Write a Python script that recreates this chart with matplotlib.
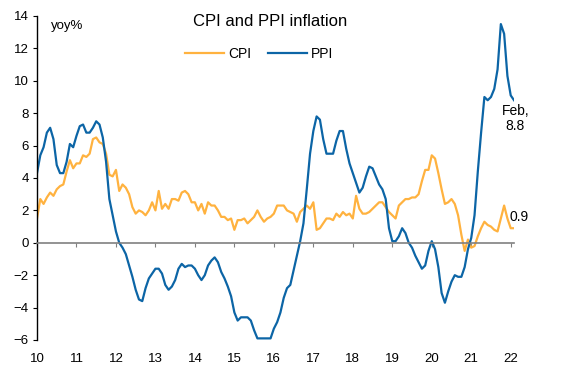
import numpy as np
import matplotlib
matplotlib.use('Agg')
from matplotlib import pyplot as plt

plt.rcParams['font.family'] = ['Liberation Sans', 'DejaVu Sans']

# Monthly yoy %, Jan 2010 - Feb 2022
cpi = [1.5, 2.7, 2.4, 2.8, 3.1, 2.9, 3.3, 3.5, 3.6, 4.4, 5.1, 4.6,
       4.9, 4.9, 5.4, 5.3, 5.5, 6.4, 6.5, 6.2, 6.1, 5.5, 4.2, 4.1,
       4.5, 3.2, 3.6, 3.4, 3.0, 2.2, 1.8, 2.0, 1.9, 1.7, 2.0, 2.5,
       2.0, 3.2, 2.1, 2.4, 2.1, 2.7, 2.7, 2.6, 3.1, 3.2, 3.0, 2.5,
       2.5, 2.0, 2.4, 1.8, 2.5, 2.3, 2.3, 2.0, 1.6, 1.6, 1.4, 1.5,
       0.8, 1.4, 1.4, 1.5, 1.2, 1.4, 1.6, 2.0, 1.6, 1.3, 1.5, 1.6,
       1.8, 2.3, 2.3, 2.3, 2.0, 1.9, 1.8, 1.3, 1.9, 2.1, 2.3, 2.1,
       2.5, 0.8, 0.9, 1.2, 1.5, 1.5, 1.4, 1.8, 1.6, 1.9, 1.7, 1.8,
       1.5, 2.9, 2.1, 1.8, 1.8, 1.9, 2.1, 2.3, 2.5, 2.5, 2.2, 1.9,
       1.7, 1.5, 2.3, 2.5, 2.7, 2.7, 2.8, 2.8, 3.0, 3.8, 4.5, 4.5,
       5.4, 5.2, 4.3, 3.3, 2.4, 2.5, 2.7, 2.4, 1.7, 0.5, -0.5, 0.2,
       -0.3, -0.2, 0.4, 0.9, 1.3, 1.1, 1.0, 0.8, 0.7, 1.5, 2.3, 1.5,
       0.9, 0.9]
ppi = [4.3, 5.4, 5.9, 6.8, 7.1, 6.4, 4.8, 4.3, 4.3, 5.0, 6.1, 5.9,
       6.6, 7.2, 7.3, 6.8, 6.8, 7.1, 7.5, 7.3, 6.5, 5.0, 2.7, 1.7,
       0.7, 0.0, -0.3, -0.7, -1.4, -2.1, -2.9, -3.5, -3.6, -2.8, -2.2, -1.9,
       -1.6, -1.6, -1.9, -2.6, -2.9, -2.7, -2.3, -1.6, -1.3, -1.5, -1.4, -1.4,
       -1.6, -2.0, -2.3, -2.0, -1.4, -1.1, -0.9, -1.2, -1.8, -2.2, -2.7, -3.3,
       -4.3, -4.8, -4.6, -4.6, -4.6, -4.8, -5.4, -5.9, -5.9, -5.9, -5.9, -5.9,
       -5.3, -4.9, -4.3, -3.4, -2.8, -2.6, -1.7, -0.8, 0.1, 1.2, 3.3, 5.5,
       6.9, 7.8, 7.6, 6.4, 5.5, 5.5, 5.5, 6.3, 6.9, 6.9, 5.8, 4.9,
       4.3, 3.7, 3.1, 3.4, 4.1, 4.7, 4.6, 4.1, 3.6, 3.3, 2.7, 0.9,
       0.1, 0.1, 0.4, 0.9, 0.6, 0.0, -0.3, -0.8, -1.2, -1.6, -1.4, -0.5,
       0.1, -0.4, -1.5, -3.1, -3.7, -3.0, -2.4, -2.0, -2.1, -2.1, -1.5, -0.4,
       0.3, 1.7, 4.4, 6.8, 9.0, 8.8, 9.0, 9.5, 10.7, 13.5, 12.9, 10.3,
       9.1, 8.8]
years = list(range(2010, 2023))
year_labels = [str(y % 100) for y in years]

t = 2010 + np.arange(len(cpi)) / 12.0

fig = plt.figure(figsize=(5.63, 3.72), dpi=100)
ax = fig.add_axes([37 / 563, 1 - 340 / 372, (514 - 37) / 563, (340 - 16) / 372])

ax.plot(t, cpi, color='#FFB23F', lw=1.6, label='CPI')
ax.plot(t, ppi, color='#0C65A6', lw=1.6, label='PPI')

ax.set_xlim(2010, t[-1])
ax.set_ylim(-6, 14)
ax.set_yticks(range(-6, 15, 2))
ax.set_xticks(years)
ax.set_xticklabels(year_labels)

for s in ['top', 'right']:
    ax.spines[s].set_visible(False)
ax.spines['bottom'].set_position(('data', 0))
ax.spines['bottom'].set_color('#808080')
ax.spines['bottom'].set_linewidth(1.2)
ax.spines['left'].set_linewidth(1.0)

ax.tick_params(axis='y', direction='out', length=3, labelsize=9.5, pad=3)
ax.tick_params(axis='x', direction='out', length=3, color='#808080',
               labelsize=9.5, pad=76)

ax.text(51 / 563, 1 - 26 / 372, 'yoy%', transform=fig.transFigure,
        fontsize=9.5, va='center', ha='left')
fig.text(270 / 563, 1 - 21 / 372, 'CPI and PPI inflation', fontsize=12,
         ha='center', va='center')
fig.legend(loc='center', bbox_to_anchor=(259 / 563, 1 - 54 / 372), ncol=2,
           frameon=False, fontsize=10, handlelength=2.8, handletextpad=0.3,
           columnspacing=1.2)

ax.annotate('Feb,\n8.8', (t[-1], ppi[-1]), xytext=(1, -3),
            textcoords='offset points', ha='center', va='top', fontsize=10,
            linespacing=1.05)
ax.annotate('0.9', (t[-1], cpi[-1]), xytext=(-3, 8),
            textcoords='offset points', ha='left', va='center', fontsize=10)

plt.savefig('out.png', dpi=100)
